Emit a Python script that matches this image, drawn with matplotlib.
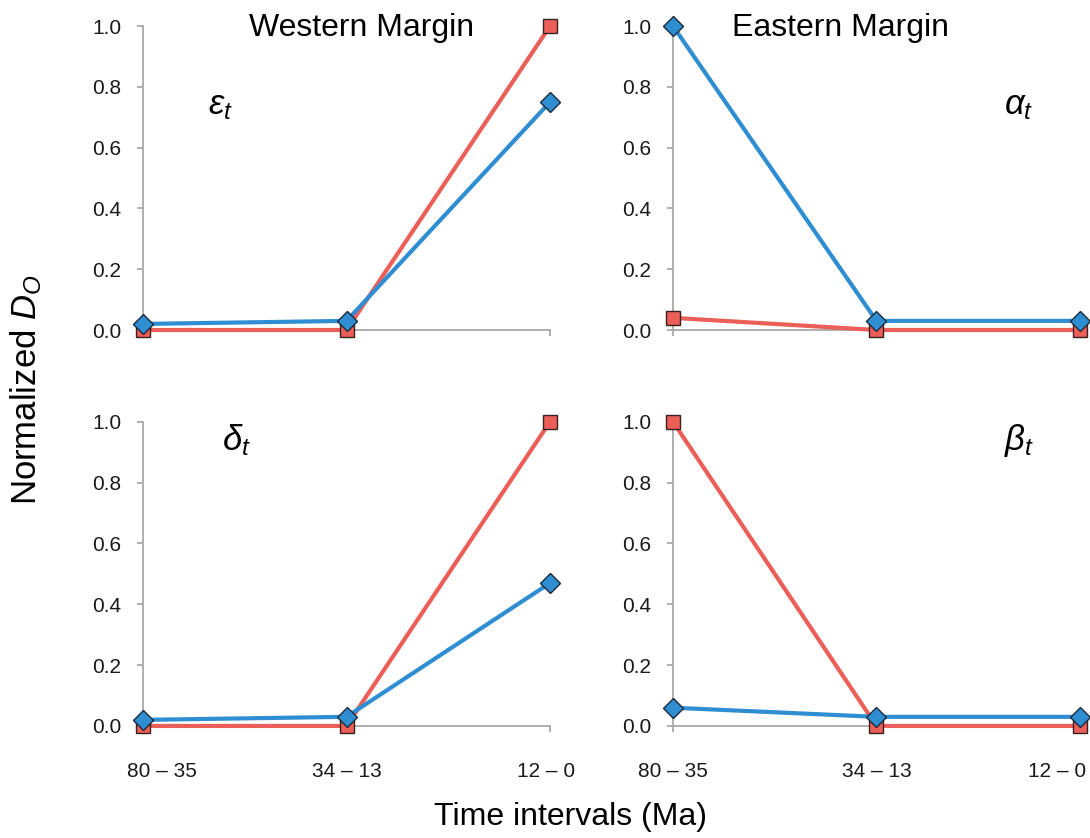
"""
Normalized D_O per time interval, western vs eastern margin
"""
import matplotlib
matplotlib.use('Agg')
import matplotlib.pyplot as plt
import matplotlib.transforms as mtransforms

plt.rcParams['font.family'] = ['Liberation Sans', 'DejaVu Sans']
plt.rcParams['mathtext.fontset'] = 'custom'
plt.rcParams['mathtext.rm'] = 'Liberation Sans'
plt.rcParams['mathtext.it'] = 'Liberation Sans:italic'

intervals = ['80 – 35', '34 – 13', '12 – 0']

# western margin
eps_red = [0.0, 0.0, 1.0]
eps_blue = [0.02, 0.03, 0.75]
delta_red = [0.0, 0.0, 1.0]
delta_blue = [0.02, 0.03, 0.47]

# eastern margin
alpha_red = [0.04, 0.0, 0.0]
alpha_blue = [1.0, 0.03, 0.03]
beta_red = [1.0, 0.0, 0.0]
beta_blue = [0.06, 0.03, 0.03]

RED = '#EB5F58'
BLUE = '#2F8ED2'
GRAY = '#A8A8A8'

fig = plt.figure(figsize=(10.9, 8.38), dpi=100)

panels = [
    # rect, red, blue, label, label pos, show x labels, x label shifts (px)
    ([0.1312, 0.6062, 0.3734, 0.3627], eps_red, eps_blue, r'$\varepsilon_t$', (0.38, 0.74), False, None),
    ([0.6174, 0.6062, 0.3734, 0.3627], alpha_red, alpha_blue, r'$\alpha_t$', (1.70, 0.74), False, None),
    ([0.1312, 0.1337, 0.3734, 0.3630], delta_red, delta_blue, r'$\delta_t$', (0.46, 0.94), True, [19, 0, -4]),
    ([0.6174, 0.1337, 0.3734, 0.3630], beta_red, beta_blue, r'$\beta_t$', (1.70, 0.94), True, [0, 0, -23]),
]

x = list(range(len(intervals)))
yt = [0, 0.2, 0.4, 0.6, 0.8, 1.0]
for rect, red, blue, lab, pos, show_x, shifts in panels:
    ax = fig.add_axes(rect)
    ax.plot(x, red, color=RED, linewidth=3, marker='s', markersize=10.5,
            markerfacecolor=RED, markeredgecolor='#3a2020', markeredgewidth=1.0,
            clip_on=False, zorder=3)
    ax.plot(x, blue, color=BLUE, linewidth=3, marker='D', markersize=10,
            markerfacecolor=BLUE, markeredgecolor='#1d2a3a', markeredgewidth=1.0,
            clip_on=False, zorder=4)
    ax.set_xlim(0, 2)
    ax.set_ylim(0, 1)
    ax.set_yticks(yt)
    ax.set_yticklabels([f'{v:.1f}' for v in yt])
    ax.set_xticks(x)
    ax.set_xticklabels([])
    for s in ['top', 'right']:
        ax.spines[s].set_visible(False)
    for s in ['left', 'bottom']:
        ax.spines[s].set_color(GRAY)
        ax.spines[s].set_linewidth(1.3)
    ax.tick_params(axis='both', colors=GRAY, labelcolor='#1a1a1a',
                   labelsize=15, length=4.5, width=1.3)
    ax.tick_params(axis='y', pad=11)
    if show_x:
        # labels placed by hand so the outer ones can be nudged like the original
        base = mtransforms.blended_transform_factory(ax.transData, ax.transAxes)
        for i, name in enumerate(intervals):
            tr = base + mtransforms.ScaledTranslation(shifts[i] / 100, 0, fig.dpi_scale_trans)
            ax.text(x[i], -0.15, name, transform=tr, fontsize=15,
                    ha='center', va='center', color='#1a1a1a')
    ax.text(pos[0], pos[1], lab, fontsize=25, ha='center', va='center')

fig.text(0.332, 0.967, 'Western Margin', fontsize=23, ha='center', va='center')
fig.text(0.771, 0.967, 'Eastern Margin', fontsize=23, ha='center', va='center')
fig.text(0.024, 0.535, 'Normalized $D_O$', fontsize=25, rotation=90,
         ha='center', va='center')
fig.text(0.523, 0.025, 'Time intervals (Ma)', fontsize=23, ha='center', va='center')

fig.savefig('out.png', dpi=100, facecolor='white')
